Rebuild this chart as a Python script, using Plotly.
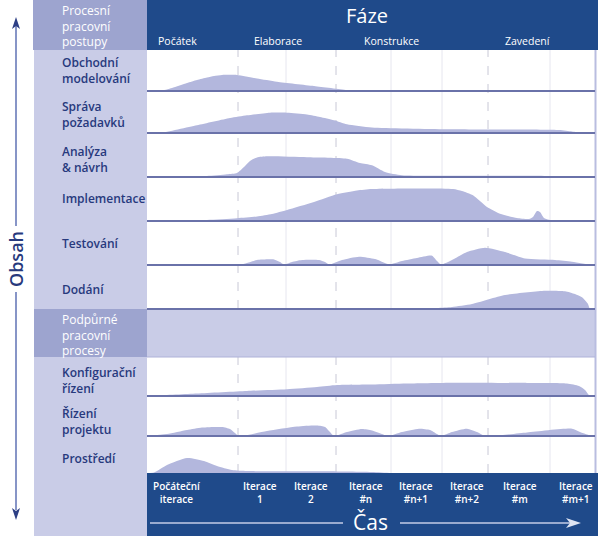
import plotly.graph_objects as go

# ---------------- data ----------------
phases = ["Počátek", "Elaborace", "Konstrukce", "Zavedení"]
phase_pos = [30, 131, 244, 380]          # time units (x axis)
iteration_labels = ["Počáteční<br>iterace", "Iterace<br>1", "Iterace<br>2", "Iterace<br>#n",
                    "Iterace<br>#n+1", "Iterace<br>#n+2", "Iterace<br>#m", "Iterace<br>#m+1"]
iteration_label_pos = [30, 113, 164, 219, 269, 320, 373, 429]
iteration_bounds = [91, 139, 189, 244, 295, 341, 403]
phase_bounds = [91, 189, 341]

disciplines = ["Obchodní<br>modelování", "Správa<br>požadavků", "Analýza<br>& návrh",
               "Implementace", "Testování", "Dodání",
               "Konfigurační<br>řízení", "Řízení<br>projektu", "Prostředí"]

obchodni_t = [0, 13, 25, 40, 50, 60, 67, 75, 90, 110, 130, 167, 200, 215, 448]
obchodni_h = [0, 0, 3, 8, 11, 13.5, 15, 16, 16, 12.5, 9.3, 5, 1, 0, 0]

sprava_t = [0, 13, 50, 83, 100, 123, 140, 160, 173, 187, 200, 225, 300, 412, 425, 435, 448]
sprava_h = [0, 0, 7.7, 15, 17.7, 20.3, 20.3, 18.5, 16, 12.7, 8.7, 5.5, 3.7, 3, 1.5, 0, 0]

analyza_t = [0, 40, 60, 80, 90, 97, 103, 110, 120, 160, 200, 213, 225, 238, 255, 300, 400, 420, 448]
analyza_h = [0, 0.3, 1, 2.7, 4, 10, 16, 19.5, 20.7, 19.8, 18.3, 14, 11.7, 5, 1.7, 1.2, 1, 0, 0]

impl_t = [0, 30, 60, 90, 110, 125, 140, 167, 190, 210, 225, 306, 315, 326, 340, 353, 370,
          382, 386, 390, 393, 397, 402, 446, 448]
impl_h = [0, 0.5, 1, 2.7, 4.5, 7, 11, 19, 26.7, 30.5, 32, 32, 30, 25.7, 14, 7.3, 3,
          2, 4, 10, 9, 3, 1.2, 0.5, 0]

test_t = [0, 92, 100, 110, 127, 133, 137, 145, 155, 172, 178, 182, 195, 212, 228, 238, 242,
          255, 270, 285, 290, 294, 305, 320, 338, 358, 378, 408, 425, 445, 448]
test_h = [0, 0, 2, 5, 5.5, 3, 0.5, 3, 5, 5, 3, 0.5, 5, 8.3, 6, 2, 0.5,
          4, 7, 9.3, 4, 0.5, 5, 13, 17.3, 13, 6.5, 5, 3.3, 0, 0]

dodani_t = [0, 250, 290, 305, 325, 358, 398, 418, 428, 435, 441, 443, 448]
dodani_h = [0, 0, 1, 2, 5, 14, 18.3, 17.8, 15, 11.7, 5, 0, 0]

konfig_t = [0, 10, 50, 100, 140, 170, 190, 225, 260, 310, 380, 420, 432, 438, 443, 448]
konfig_h = [0, 0.5, 2.5, 5, 6.7, 9, 11, 11.5, 12.5, 13.3, 13, 12.5, 10, 6, 0, 0]

rizeni_t = [0, 20, 40, 55, 75, 83, 88, 92, 120, 150, 170, 178, 183, 187, 200, 215, 225, 235, 241,
            255, 272, 283, 290, 294, 305, 320, 330, 338, 380, 425, 433, 445, 448]
rizeni_h = [0, 2, 6, 8.5, 9, 7, 3, 0, 5, 9.5, 10.5, 9, 4, 0, 4, 7, 5.5, 2, 0,
            4, 7.3, 6, 2, 0, 4, 7.3, 4, 0, 3.5, 7.3, 4, 0, 0]

prostredi_t = [0, 7, 20, 40, 57, 70, 85, 100, 150, 200, 225, 245, 448]
prostredi_h = [0, 0.5, 8, 15, 12, 7, 3, 2, 1.7, 1.5, 1, 0, 0]

series_t = [obchodni_t, sprava_t, analyza_t, impl_t, test_t, dodani_t, konfig_t, rizeni_t, prostredi_t]
series_h = [obchodni_h, sprava_h, analyza_h, impl_h, test_h, dodani_h, konfig_h, rizeni_h, prostredi_h]

# ---------------- layout geometry (pixels) ----------------
W, H = 600, 536
row_px = [(50, 91), (91, 133), (133, 177), (177, 221), (221, 265), (265, 309),
          (357, 396), (396, 436), (436, 473)]
label_y = [(63, 78), (107, 121), (153, 166), (198,), (243,), (289,), (374, 387), (414, 429), (458,)]

X0, X1 = 147, 595

def px(x):
    return x / W

def py(y):
    return 1 - y / H

NAVY = "#1f4a8a"
LAV = "#c9cce7"
LAV_D = "#9da4cf"
HUMP = "#b3b7dd"
BASE = "#6a72a9"
TXT = "#27397d"
FONT = "Open Sans"

fig = go.Figure()

for i, (t, h) in enumerate(zip(series_t, series_h)):
    fig.add_trace(go.Scatter(
        x=t, y=h, mode="lines", fill="tozeroy", fillcolor=HUMP,
        line=dict(width=0, color=HUMP, shape="spline", smoothing=0.6),
        xaxis="x", yaxis="y" if i == 0 else f"y{i+1}", hoverinfo="skip", showlegend=False))

layout = dict(
    width=W, height=H, margin=dict(l=0, r=0, t=0, b=0),
    paper_bgcolor="white", plot_bgcolor="rgba(0,0,0,0)",
    showlegend=False,
    xaxis=dict(domain=[px(X0), px(X1)], range=[0, X1 - X0], visible=False, fixedrange=True),
)
for i, (top, bot) in enumerate(row_px):
    key = "yaxis" if i == 0 else f"yaxis{i+1}"
    layout[key] = dict(domain=[py(bot), py(top)], range=[0, bot - top], visible=False,
                       fixedrange=True, anchor="x")
fig.update_layout(**layout)

shapes = []

def rect(x0, y0, x1, y1, color, layer="below"):
    shapes.append(dict(type="rect", xref="paper", yref="paper", x0=px(x0), x1=px(x1),
                       y0=py(y1), y1=py(y0), fillcolor=color, line=dict(width=0), layer=layer))

# backgrounds
rect(33, 0, 147, 50, LAV_D)
rect(34, 50, 147, 536, LAV)
rect(147, 0, 598, 50, NAVY)
rect(147, 50, 595, 473, "white")
rect(34, 309, 147, 357, LAV_D)
rect(147, 309, 595, 357, LAV)
rect(147, 473, 598, 536, NAVY)
shapes.append(dict(type="line", xref="paper", yref="paper", x0=px(595.5), x1=px(595.5),
                   y0=py(473), y1=py(50), line=dict(color="#b9bde0", width=2), layer="below"))

# iteration grid lines
for b in iteration_bounds:
    is_phase = b in phase_bounds
    for (ya, yb) in [(50, 309), (357, 473)]:
        shapes.append(dict(type="line", xref="x", yref="paper", x0=b, x1=b, y0=py(yb), y1=py(ya),
                           line=dict(color="#c8c8d6" if is_phase else "#e6e6ef", width=1,
                                     dash="dash" if is_phase else "solid"),
                           layer="below"))

# baselines
for (top, bot) in row_px[:-1]:
    shapes.append(dict(type="line", xref="paper", yref="paper", x0=px(X0), x1=px(X1),
                       y0=py(bot), y1=py(bot), line=dict(color=BASE, width=2), layer="above"))
shapes.append(dict(type="line", xref="paper", yref="paper", x0=px(X0), x1=px(X1),
                   y0=py(357), y1=py(357), line=dict(color="#aeb2d8", width=1), layer="above"))

# left vertical arrow
AR = "#5f72b5"
shapes.append(dict(type="line", xref="paper", yref="paper", x0=px(16), x1=px(16),
                   y0=py(226), y1=py(26), line=dict(color=AR, width=1.5)))
shapes.append(dict(type="line", xref="paper", yref="paper", x0=px(16), x1=px(16),
                   y0=py(510), y1=py(292), line=dict(color=AR, width=1.5)))
def tri(points, color):
    path = "M " + " L ".join(f"{px(x)},{py(y)}" for x, y in points) + " Z"
    shapes.append(dict(type="path", xref="paper", yref="paper", path=path,
                       fillcolor=color, line=dict(width=0)))
tri([(16, 17), (12, 29), (16, 26), (20, 29)], "#2d3f85")
tri([(16, 520), (12, 508), (16, 511), (20, 508)], "#2d3f85")

# bottom time arrow
shapes.append(dict(type="line", xref="paper", yref="paper", x0=px(150), x1=px(343),
                   y0=py(523), y1=py(523), line=dict(color="#c4cde6", width=1.5)))
shapes.append(dict(type="line", xref="paper", yref="paper", x0=px(400), x1=px(572),
                   y0=py(523), y1=py(523), line=dict(color="#c4cde6", width=1.5)))
tri([(581, 523), (566, 518), (570, 523), (566, 528)], "#dfe5f3")

fig.update_layout(shapes=shapes)

ann = []

def text(x, y, s, size, color, xanchor="left", weight=600, xref="paper", **kw):
    ann.append(dict(x=px(x) if xref == "paper" else x, y=py(y), xref=xref, yref="paper",
                    text=s, showarrow=False, xanchor=xanchor, yanchor="middle",
                    font=dict(family=FONT, size=size, color=color, weight=weight), **kw))

# header label
text(60, 26, "Procesní<br>pracovní<br>postupy", 12, "white", weight=500, align="left")
text(367, 15, "Fáze", 20, "white", xanchor="center", weight=500)
for p, xp in zip(phases, phase_pos):
    text(xp, 41, p, 10.5, "white", xanchor="center", weight=500, xref="x")

# discipline labels
for name, ys in zip(disciplines, label_y):
    yc = sum(ys) / len(ys)
    text(60, yc, name, 12, TXT, align="left")
text(60, 335, "Podpůrné<br>pracovní<br>procesy", 12, "white", weight=500, align="left")

# iteration labels
for lab, xp in zip(iteration_labels, iteration_label_pos):
    text(xp, 492, lab, 10, "white", xanchor="center", weight=600, xref="x", align="center")

text(370, 522, "Čas", 21, "white", xanchor="center", weight=500)
text(16, 259, "Obsah", 18, TXT, xanchor="center", weight=600, textangle=-90)

fig.update_layout(annotations=ann)

fig.write_html("out.html", config={"displayModeBar": False},
               post_script="document.body.style.margin='0';document.body.style.padding='0';")
